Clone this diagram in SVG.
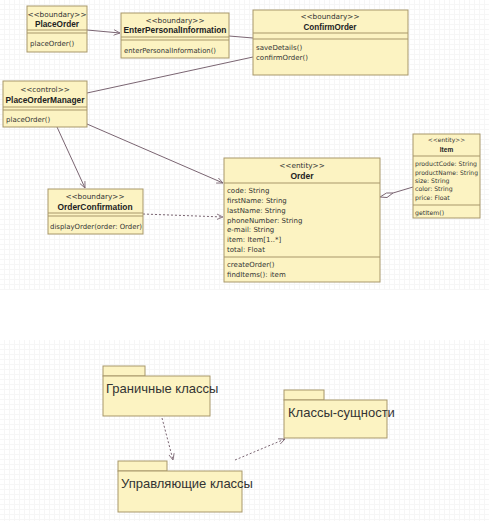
<svg xmlns="http://www.w3.org/2000/svg" width="489" height="521" viewBox="0 0 489 521">
<defs>
<pattern id="grid" width="5" height="5" patternUnits="userSpaceOnUse">
<rect width="5" height="5" fill="#ffffff"/>
<rect x="0" y="4" width="5" height="1" fill="#f6f6f6"/>
<rect x="4" y="0" width="1" height="5" fill="#f6f6f6"/>
</pattern>
<marker id="open" viewBox="0 0 10 10" refX="9" refY="5" markerWidth="7" markerHeight="7" orient="auto" markerUnits="userSpaceOnUse">
<path d="M0,1 L9,5 L0,9" fill="none" stroke="#7a6572" stroke-width="1.2"/>
</marker>
</defs>
<style>
.box{fill:#fcf3c2;stroke:#a8976a;stroke-width:1}
.div{stroke:#a8976a;stroke-width:1}
.st{font-family:"DejaVu Sans",sans-serif;font-size:7.3px;fill:#333;text-anchor:middle}
.nm{font-family:"Liberation Sans",sans-serif;font-size:8.5px;font-weight:bold;fill:#222;text-anchor:middle}
.tx{font-family:"DejaVu Sans",sans-serif;font-size:7px;fill:#333}
.sm{font-family:"DejaVu Sans",sans-serif;font-size:6.2px;fill:#333}
.pk{font-family:"Liberation Sans",sans-serif;font-size:13px;fill:#333}
.ln{fill:none;stroke:#7a6572;stroke-width:1}
.dash{fill:none;stroke:#7a6572;stroke-width:1;stroke-dasharray:2,2}
</style>
<rect x="0" y="0" width="489" height="290" fill="url(#grid)"/>
<rect x="0" y="290" width="489" height="50" fill="#ffffff"/>
<rect x="0" y="340" width="489" height="181" fill="url(#grid)"/>

<g id="connectors">
<line class="ln" x1="87" y1="30" x2="120" y2="33" marker-end="url(#open)"/>
<line class="ln" x1="229" y1="36" x2="253" y2="38"/>
<line class="ln" x1="87" y1="93" x2="253" y2="57"/>
<line class="ln" x1="57" y1="127" x2="85" y2="188" marker-end="url(#open)"/>
<line class="ln" x1="87" y1="124" x2="223" y2="183" marker-end="url(#open)"/>
<line class="dash" x1="143" y1="214" x2="223" y2="217" marker-end="url(#open)"/>
<line class="ln" x1="393" y1="193" x2="413" y2="187"/>
<path d="M380,197 L386.5,193 L393,193 L387,197.5 Z" fill="#ffffff" stroke="#7a6572" stroke-width="1"/>
<line class="dash" x1="162" y1="418" x2="173" y2="460" marker-end="url(#open)"/>
<line class="dash" x1="235" y1="460" x2="285" y2="439" marker-end="url(#open)"/>
</g>

<g id="PlaceOrder">
<rect class="box" x="27" y="6" width="60" height="46"/>
<line class="div" x1="27" y1="30" x2="87" y2="30"/>
<line class="div" x1="27" y1="33" x2="87" y2="33"/>
<text class="st" x="57" y="17">&lt;&lt;boundary&gt;&gt;</text>
<text class="nm" x="57" y="27" textLength="44" lengthAdjust="spacingAndGlyphs">PlaceOrder</text>
<text class="tx" x="30" y="46">placeOrder()</text>
</g>

<g id="EnterPersonalInformation">
<rect class="box" x="121" y="13" width="108" height="45"/>
<line class="div" x1="121" y1="37" x2="229" y2="37"/>
<line class="div" x1="121" y1="40" x2="229" y2="40"/>
<text class="st" x="175" y="23">&lt;&lt;boundary&gt;&gt;</text>
<text class="nm" x="175" y="33" textLength="103" lengthAdjust="spacingAndGlyphs">EnterPersonalInformation</text>
<text class="tx" x="124" y="53" textLength="92" lengthAdjust="spacingAndGlyphs">enterPersonalInformation()</text>
</g>

<g id="ConfirmOrder">
<rect class="box" x="253" y="10" width="155" height="65"/>
<line class="div" x1="253" y1="33" x2="408" y2="33"/>
<line class="div" x1="253" y1="39" x2="408" y2="39"/>
<text class="st" x="330" y="19">&lt;&lt;boundary&gt;&gt;</text>
<text class="nm" x="330" y="30" textLength="53" lengthAdjust="spacingAndGlyphs">ConfirmOrder</text>
<text class="tx" x="256" y="50">saveDetails()</text>
<text class="tx" x="256" y="60">confirmOrder()</text>
</g>

<g id="PlaceOrderManager">
<rect class="box" x="3" y="81" width="84" height="46"/>
<line class="div" x1="3" y1="107" x2="87" y2="107"/>
<line class="div" x1="3" y1="110" x2="87" y2="110"/>
<text class="st" x="45" y="92">&lt;&lt;control&gt;&gt;</text>
<text class="nm" x="45" y="103" textLength="79" lengthAdjust="spacingAndGlyphs">PlaceOrderManager</text>
<text class="tx" x="6" y="122">placeOrder()</text>
</g>

<g id="OrderConfirmation">
<rect class="box" x="48" y="189" width="95" height="45"/>
<line class="div" x1="48" y1="213" x2="143" y2="213"/>
<line class="div" x1="48" y1="216" x2="143" y2="216"/>
<text class="st" x="95" y="199">&lt;&lt;boundary&gt;&gt;</text>
<text class="nm" x="95" y="210" textLength="75" lengthAdjust="spacingAndGlyphs">OrderConfirmation</text>
<text class="tx" x="50" y="229" textLength="92" lengthAdjust="spacingAndGlyphs">displayOrder(order: Order)</text>
</g>

<g id="Order">
<rect class="box" x="224" y="158" width="156" height="124"/>
<line class="div" x1="224" y1="183" x2="380" y2="183"/>
<line class="div" x1="224" y1="257" x2="380" y2="257"/>
<text class="st" x="302" y="168">&lt;&lt;entity&gt;&gt;</text>
<text class="nm" x="302" y="179">Order</text>
<text class="tx" x="227" y="193">code: String</text>
<text class="tx" x="227" y="203">firstName: String</text>
<text class="tx" x="227" y="213">lastName: String</text>
<text class="tx" x="227" y="223">phoneNumber: String</text>
<text class="tx" x="227" y="232">e-mail: String</text>
<text class="tx" x="227" y="242">item: Item[1..*]</text>
<text class="tx" x="227" y="252">total: Float</text>
<text class="tx" x="227" y="267">createOrder()</text>
<text class="tx" x="227" y="277">findItems(): item</text>
</g>

<g id="Item">
<rect class="box" x="413" y="134" width="67" height="84"/>
<line class="div" x1="413" y1="156" x2="480" y2="156"/>
<line class="div" x1="413" y1="205" x2="480" y2="205"/>
<text class="st" x="446.5" y="142" style="font-size:6px">&lt;&lt;entity&gt;&gt;</text>
<text class="nm" x="446.5" y="152" style="font-size:6.5px">Item</text>
<text class="sm" x="415" y="166" textLength="62" lengthAdjust="spacingAndGlyphs">productCode: String</text>
<text class="sm" x="415" y="175" textLength="63" lengthAdjust="spacingAndGlyphs">productName: String</text>
<text class="sm" x="415" y="183">size: String</text>
<text class="sm" x="415" y="191">color: String</text>
<text class="sm" x="415" y="200">price: Float</text>
<text class="sm" x="415" y="215">getItem()</text>
</g>

<g id="BoundaryPackage">
<rect class="box" x="103" y="366" width="42" height="10"/>
<rect class="box" x="103" y="376" width="107" height="40"/>
<text class="pk" x="106" y="393">Граничные классы</text>
</g>

<g id="ControlPackage">
<rect class="box" x="118" y="461" width="49" height="10"/>
<rect class="box" x="118" y="471" width="124" height="41"/>
<text class="pk" x="121" y="488">Управляющие классы</text>
</g>

<g id="EntityPackage">
<rect class="box" x="284" y="390" width="40" height="10"/>
<rect class="box" x="284" y="400" width="103" height="38"/>
<text class="pk" x="288" y="417">Классы-сущности</text>
</g>
</svg>
